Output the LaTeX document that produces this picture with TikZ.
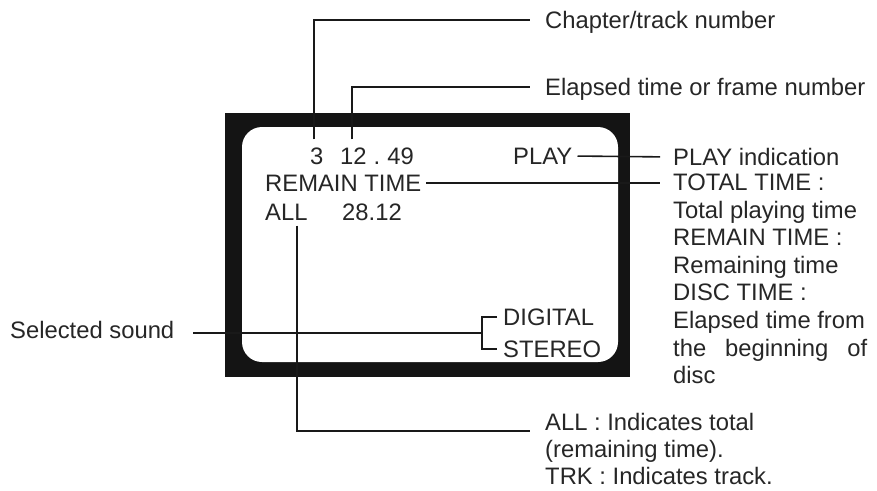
\documentclass[tikz,border=0pt]{standalone}
\usepackage{fontspec}
\setmainfont{Liberation Sans}
\usetikzlibrary{calc}
\begin{document}
\begin{tikzpicture}[x=1pt,y=-1pt,
  txt/.style={font=\fontsize{23.8}{27.6}\selectfont, text=black!85, inner sep=0pt,
    text height=17pt, text depth=0pt, anchor=west},
  lead/.style={line width=1.6pt, black!90}]
\useasboundingbox (0,0) rectangle (877,490);
% TV screen
\fill[black!92] (225,113) rectangle (630,377);
\fill[white, rounded corners=20pt] (242,127) rectangle (618,362);
% screen texts
\node[txt] (n3) at (310,156) {3};
\node[txt] (t1249) at (340,156) {12\hspace{7pt}.\hspace{7pt}49};
\node[txt] (play) at (513,156) {PLAY};
\node[txt] (remain) at (265,183) {REMAIN TIME};
\node[txt] (all) at (265,212) {ALL};
\node[txt] (t2812) at (342,212) {28.12};
\node[txt] (digital) at (503,317) {DIGITAL};
\node[txt] (stereo) at (503,349) {STEREO};
% labels
\node[txt] (selsnd) at (10,330) {Selected sound};
\node[txt] (chap) at (545,20) {Chapter/track number};
\node[txt] (elap) at (545,87) {Elapsed time or frame number};
\node[txt] (playind) at (673,157) {PLAY indication};
\node[txt] (r1) at (673,182) {TOTAL TIME :};
\node[txt] (r2) at (673,209.6) {Total playing time};
\node[txt] (r3) at (673,237.2) {REMAIN TIME :};
\node[txt] (r4) at (673,264.8) {Remaining time};
\node[txt] (r5) at (673,292.4) {DISC TIME :};
\node[txt] (r6) at (673,320) {Elapsed time from};
\node[txt] (r7) at (673,347.6) {\makebox[194pt][s]{the\hfill beginning\hfill of}};
\node[txt] (r8) at (673,375.2) {disc};
\node[txt] (allind) at (545,422) {ALL : Indicates total};
\node[txt] (remt) at (545,449) {(remaining time).};
\node[txt] (trk) at (545,476) {TRK : Indicates track.};
% connectors
\draw[lead, shorten >=15pt] ([xshift=-3pt,yshift=8pt]n3.north) |- (chap.west);
\draw[lead, shorten >=15pt] ([xshift=12pt,yshift=8pt]t1249.north west) |- (elap.west);
\draw[lead, shorten <=5pt, shorten >=13pt] (play.east) -- (playind.west);
\draw[lead, shorten <=5pt, shorten >=13pt] (remain.east) -- (r1.west |- remain.east);
\draw[lead, shorten >=15pt] ([xshift=-11pt,yshift=-5pt]all.south east) |- (allind.south west);
\draw[lead] ([xshift=-6pt]digital.west) -- ++(-15pt,0) coordinate (btop) |- ([xshift=-6pt]stereo.west);
\coordinate (brk) at ($(btop)!0.5!(btop |- stereo.west)$);
\draw[lead, shorten <=19pt] (selsnd.east |- brk) -- (brk);
\end{tikzpicture}
\end{document}
